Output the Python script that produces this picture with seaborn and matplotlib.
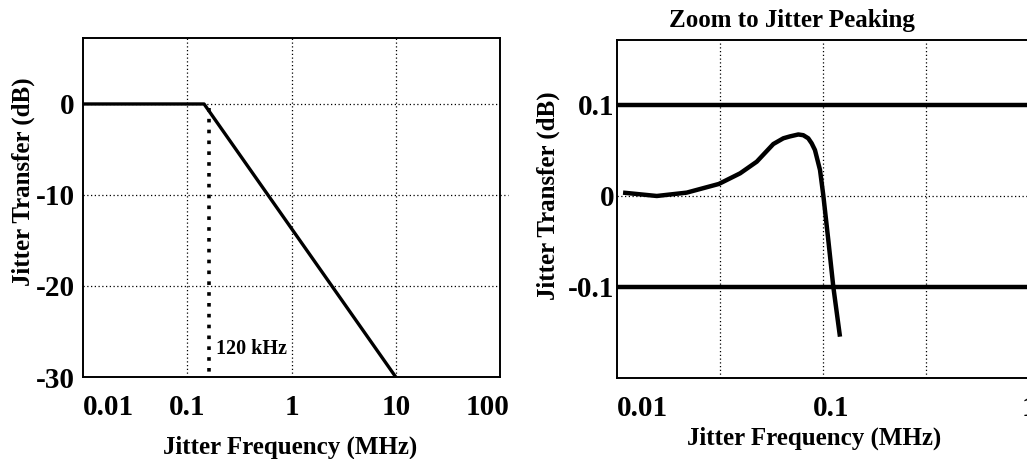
import matplotlib
matplotlib.use("Agg")
import matplotlib.pyplot as plt
import matplotlib.transforms as mtransforms
import seaborn as sns


# Left panel: jitter transfer mask
mask_freq = [0.01, 0.145, 10]
mask_db = [0, 0, -30]
corner_freq = 0.162
corner_label = "120 kHz"
left_xticks = [0.01, 0.1, 1, 10, 100]
left_xlabels = ["0.01", "0.1", "1", "10", "100"]
left_yticks = [0, -10, -20, -30]
left_ylabels = ["0", "-10", "-20", "-30"]

# Right panel: zoom to the peaking
peak_freq = [0.0107, 0.0156, 0.0218, 0.0312, 0.0396, 0.0477, 0.0574, 0.0642,
             0.0692, 0.0759, 0.0802, 0.0848, 0.0881, 0.0914, 0.0967, 0.1003,
             0.1061, 0.1122, 0.1209]
peak_db = [0.0037, 0.0, 0.0037, 0.0132, 0.0249, 0.0377, 0.0571, 0.0634,
           0.0655, 0.0676, 0.0668, 0.0634, 0.0579, 0.0505, 0.0286, 0.0011,
           -0.0484, -0.0997, -0.1546]
peak_limits = [0.1, -0.1]
right_xticks = [0.01, 0.0316, 0.1, 0.316, 1]
right_xlabels = ["0.01", "", "0.1", "", "1"]
right_yticks = [0.1, 0, -0.1]
right_ylabels = ["0.1", "0", "-0.1"]

sns.set_theme(style="white")
plt.rcParams["font.family"] = ["Liberation Serif", "DejaVu Serif"]
plt.rcParams["font.weight"] = "bold"
plt.rcParams["text.color"] = "black"

W, H = 1027, 459
fig = plt.figure(figsize=(W / 100, H / 100), dpi=100)

def px_box(x0, y0, x1, y1):
    return [x0 / W, 1 - y1 / H, (x1 - x0) / W, (y1 - y0) / H]

ax1 = fig.add_axes(px_box(83, 38, 500, 377))
ax2 = fig.add_axes(px_box(617, 40, 1035, 378))

grid_kw = dict(color="black", linestyle=(0, (1, 2)), linewidth=0.9)

# ---- left panel
sns.lineplot(x=mask_freq, y=mask_db, ax=ax1, color="black", linewidth=2.4)
ax1.plot([corner_freq, corner_freq], [-0.4, -30], color="black",
         linestyle=(0, (1, 2)), linewidth=2.6)
ax1.text(0.19, -26.9, corner_label, fontsize=14.5, fontweight="bold",
         va="center", ha="left", color="black")
ax1.set_xscale("log")
ax1.set_xlim(0.01, 100)
ax1.set_ylim(-30, 7.25)
ax1.set_xticks(left_xticks)
ax1.set_xticklabels(left_xlabels)
ax1.minorticks_off()
ax1.set_yticks(left_yticks)
ax1.set_yticklabels(left_ylabels)
for x in left_xticks[1:-1]:
    ax1.axvline(x, **grid_kw)
for y in left_yticks[:-1]:
    ax1.axhline(y, **grid_kw)
# the -10 grid line runs a little past the frame
ax1.axhline(-10, xmin=1.0, xmax=1.02, clip_on=False, **grid_kw)
ax1.tick_params(axis="x", direction="inout", length=10, width=1.3,
                pad=7, labelsize=21, colors="black")
ax1.tick_params(axis="y", direction="inout", length=20, width=1.8,
                pad=-4, labelsize=21, colors="black")
labs = ax1.get_xticklabels()
labs[0].set_ha("left")
labs[-1].set_transform(labs[-1].get_transform() +
                       mtransforms.ScaledTranslation(-0.12, 0, fig.dpi_scale_trans))

# ---- right panel
sns.lineplot(x=peak_freq, y=peak_db, ax=ax2, color="black", linewidth=3.2,
             sort=False, solid_capstyle="butt", solid_joinstyle="round")
for lim in peak_limits:
    ax2.axhline(lim, color="black", linewidth=3.2, solid_capstyle="butt")
ax2.set_xscale("log")
ax2.set_xlim(0.01, 0.01 * 10 ** (418 / 206))
ax2.set_ylim(-0.2, 0.1714)
ax2.set_xticks(right_xticks)
ax2.set_xticklabels(right_xlabels)
ax2.minorticks_off()
ax2.set_yticks(right_yticks)
ax2.set_yticklabels(right_ylabels)
for x in right_xticks[1:-1]:
    ax2.axvline(x, **grid_kw)
ax2.axhline(0, **grid_kw)
ax2.tick_params(axis="x", direction="inout", length=11, width=1.3,
                pad=7, labelsize=21, colors="black")
ax2.tick_params(axis="y", direction="out", length=9, width=1.3,
                pad=-7, labelsize=21, colors="black")
labs = ax2.get_xticklabels()
labs[0].set_ha("left")
labs[2].set_transform(labs[2].get_transform() +
                      mtransforms.ScaledTranslation(0.08, 0, fig.dpi_scale_trans))

for ax in (ax1, ax2):
    for s in ax.spines.values():
        s.set_color("black")
        s.set_linewidth(1.4)
        s.set_visible(True)

lab_kw = dict(fontsize=18, fontweight="bold", ha="center", va="center",
              color="black")
fig.text(290 / W, 1 - 447 / H, "Jitter Frequency (MHz)", **lab_kw)
fig.text(814 / W, 1 - 438 / H, "Jitter Frequency (MHz)", **lab_kw)
fig.text(23 / W, 1 - 182 / H, "Jitter Transfer (dB)", rotation=90, **lab_kw)
fig.text(548 / W, 1 - 196 / H, "Jitter Transfer (dB)", rotation=90, **lab_kw)
fig.text(792 / W, 1 - 20 / H, "Zoom to Jitter Peaking", **lab_kw)

fig.savefig("out.png", dpi=100)
